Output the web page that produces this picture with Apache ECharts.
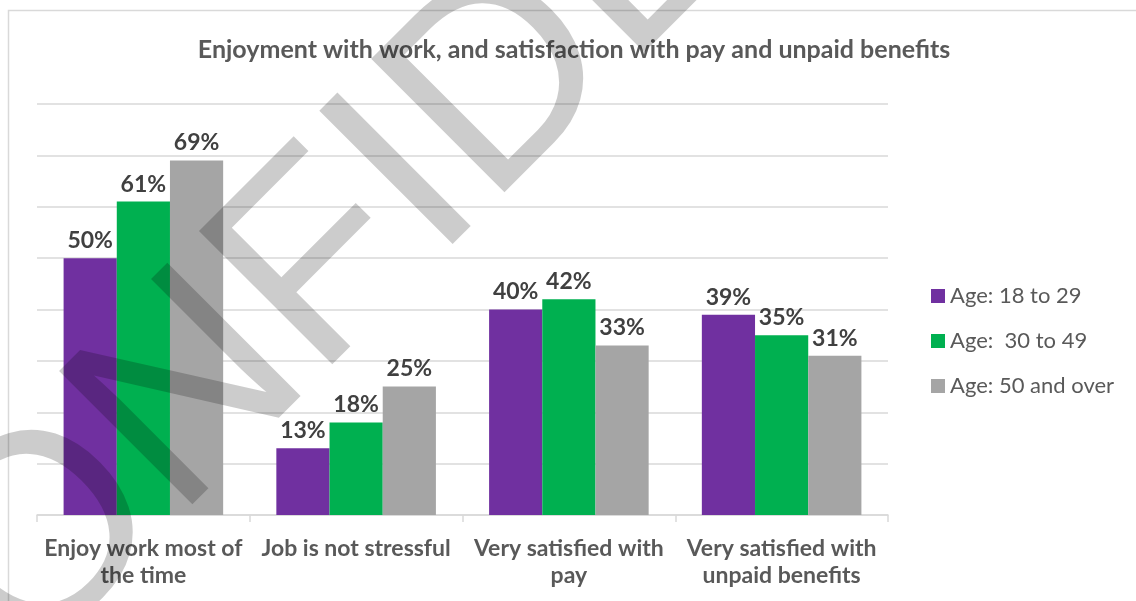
<!DOCTYPE html>
<html>
<head>
<meta charset="utf-8">
<script src="https://cdn.jsdelivr.net/npm/echarts@6/dist/echarts.min.js"></script>
<style>
  html, body { margin: 0; padding: 0; background: #ffffff; }
  #chart { width: 1136px; height: 601px; }
</style>
</head>
<body>
<div id="chart"></div>
<script>
// Survey results by age group (percent of workers)
const categories = [
  'Enjoy work most of\nthe time',
  'Job is not stressful',
  'Very satisfied with\npay',
  'Very satisfied with\nunpaid benefits'
];
const seriesNames = ['Age: 18 to 29', 'Age:  30 to 49', 'Age: 50 and over'];
const age18to29 = [50, 13, 40, 39];
const age30to49 = [61, 18, 42, 35];
const age50plus = [69, 25, 33, 31];
const yTicks = [0, 10, 20, 30, 40, 50, 60, 70, 80];

const colors = ['#7030A0', '#00B050', '#A5A5A5'];
const FONT = 'Lato, "Open Sans", sans-serif';

const chart = echarts.init(document.getElementById('chart'), null, { renderer: 'canvas' });

function barSeries(name, data, color) {
  return {
    name: name,
    type: 'bar',
    data: data,
    barGap: '0%',
    barCategoryGap: '25%',
    itemStyle: { color: color },
    label: {
      show: true,
      position: 'top',
      distance: 6,
      formatter: '{c}%',
      color: '#404040',
      fontFamily: FONT,
      fontWeight: 'bold',
      fontSize: 23
    }
  };
}

// Diagonal watermark stamped across the chart.
// (u runs up-right along the slanted baseline, v runs down-right across it)
const wmAngle = Math.PI / 4;
const wmU = -654, wmV = 417;
const wmX = (wmU + wmV) / Math.SQRT2;
const wmY = (wmV - wmU) / Math.SQRT2;

chart.setOption({
  animation: false,
  backgroundColor: '#ffffff',
  title: {
    text: 'Enjoyment with work, and satisfaction with pay and unpaid benefits',
    left: 569,
    top: 32,
    textAlign: 'center',
    textStyle: { color: '#595959', fontFamily: FONT, fontWeight: 'bold', fontSize: 25 }
  },
  legend: {
    orient: 'vertical',
    left: 931,
    top: 284,
    padding: 0,
    itemWidth: 14,
    itemHeight: 14,
    itemGap: 21,
    icon: 'rect',
    data: seriesNames,
    textStyle: { color: '#595959', fontFamily: FONT, fontSize: 22, lineHeight: 24 }
  },
  grid: { left: 37, right: 248, top: 104, bottom: 86, containLabel: false },
  xAxis: {
    type: 'category',
    data: categories,
    axisLine: { lineStyle: { color: '#d9d9d9', width: 1.5 } },
    axisTick: { show: true, length: 7, lineStyle: { color: '#d9d9d9', width: 1.5 } },
    axisLabel: {
      interval: 0,
      margin: 20,
      color: '#595959',
      fontFamily: FONT,
      fontWeight: 'bold',
      fontSize: 23,
      lineHeight: 27
    }
  },
  yAxis: {
    type: 'value',
    min: yTicks[0],
    max: yTicks[yTicks.length - 1],
    interval: yTicks[1] - yTicks[0],
    axisLabel: { show: false },
    axisLine: { show: false },
    axisTick: { show: false },
    splitLine: { lineStyle: { color: '#d9d9d9', width: 1.5 } }
  },
  series: [
    barSeries(seriesNames[0], age18to29, colors[0]),
    barSeries(seriesNames[1], age30to49, colors[1]),
    barSeries(seriesNames[2], age50plus, colors[2])
  ],
  graphic: [
    {
      type: 'rect',
      silent: true,
      z: -1,
      shape: { x: 8.5, y: 10.5, width: 1300, height: 800 },
      style: { fill: 'none', stroke: '#d9d9d9', lineWidth: 1.5 }
    },
    {
      type: 'text',
      silent: true,
      z: 100,
      x: wmX,
      y: wmY,
      rotation: wmAngle,
      style: {
        text: 'CONFIDENTIAL',
        fontFamily: '"Liberation Sans", Arial, sans-serif',
        fontSize: 274,
        fill: '#000000',
        opacity: 0.2,
        align: 'left',
        textAlign: 'left',
        verticalAlign: 'middle',
        textVerticalAlign: 'middle'
      }
    }
  ]
});
</script>
</body>
</html>
